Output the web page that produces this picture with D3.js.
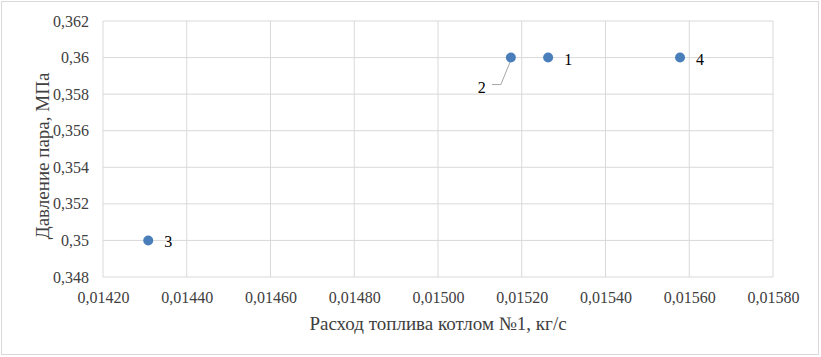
<!DOCTYPE html>
<html>
<head>
<meta charset="utf-8">
<script src="https://cdn.jsdelivr.net/npm/d3@7"></script>
<style>
  body { margin: 0; background: #fff; }
  svg text { font-family: 'Liberation Serif', 'Times New Roman', Times, 'DejaVu Serif', serif !important; }
</style>
</head>
<body>
<div id="chart"></div>
<script>
// точки: расход топлива, давление пара, номер режима
const fuelFlow = [0.015263, 0.015174, 0.014308, 0.015578];
const pressure = [0.360, 0.360, 0.350, 0.360];
const pointLabels = ["1", "2", "3", "4"];
const xTicks = [0.0142, 0.0144, 0.0146, 0.0148, 0.0150, 0.0152, 0.0154, 0.0156, 0.0158];
const yTicks = [0.348, 0.350, 0.352, 0.354, 0.356, 0.358, 0.360, 0.362];

const W = 821, H = 357;
const margin = {top: 21, right: 48, bottom: 80, left: 103},
  width = W - margin.left - margin.right,
  height = H - margin.top - margin.bottom;

const root = d3.select("#chart").append("svg")
  .attr("width", W)
  .attr("height", H);

// рамка области диаграммы
root.append("rect")
  .attr("x", 1.5).attr("y", 1.5)
  .attr("width", W - 4).attr("height", H - 4)
  .attr("fill", "#fff")
  .attr("stroke", "#d9d9d9");

const svg = root.append("g")
  .attr("transform", `translate(${margin.left}, ${margin.top})`);

let x = d3.scaleLinear().domain([0.0142, 0.0158]).range([0, width]);
let y = d3.scaleLinear().domain([0.348, 0.362]).range([height, 0]);

const fmtX = d => d3.format(".5f")(d).replace(".", ",");
const fmtY = d => String(+d.toFixed(3)).replace(".", ",");

// сетка
svg.append("g")
  .selectAll("line")
  .data(xTicks)
  .enter().append("line")
  .attr("x1", d => x(d)).attr("x2", d => x(d))
  .attr("y1", 0).attr("y2", height)
  .attr("stroke", "#d9d9d9");

svg.append("g")
  .selectAll("line")
  .data(yTicks)
  .enter().append("line")
  .attr("x1", 0).attr("x2", width)
  .attr("y1", d => y(d)).attr("y2", d => y(d))
  .attr("stroke", "#d9d9d9");

// оси
const xAxis = svg.append("g")
  .attr("transform", `translate(0, ${height})`)
  .call(d3.axisBottom(x).tickValues(xTicks).tickFormat(fmtX).tickSize(0).tickPadding(15));
xAxis.select(".domain").remove();
xAxis.attr("font-family", null).attr("font-size", 16);
xAxis.selectAll("text").attr("fill", "#404040");

const yAxis = svg.append("g")
  .call(d3.axisLeft(y).tickValues(yTicks).tickFormat(fmtY).tickSize(0).tickPadding(14));
yAxis.select(".domain").remove();
yAxis.attr("font-family", null).attr("font-size", 16);
yAxis.selectAll("text").attr("fill", "#404040");

// точки
const pts = fuelFlow.map((v, i) => ({x: v, y: pressure[i], label: pointLabels[i]}));

svg.selectAll("circle")
  .data(pts)
  .enter().append("circle")
  .attr("cx", d => x(d.x))
  .attr("cy", d => y(d.y))
  .attr("r", 5)
  .attr("fill", "#4a7ebb");

// подписи точек (у точки 2 подпись с выноской)
svg.selectAll(".pt-label")
  .data(pts)
  .enter().append("text")
  .attr("class", "pt-label")
  .attr("x", d => d.label === "2" ? x(d.x) - 33 : x(d.x) + 16)
  .attr("y", d => d.label === "2" ? y(d.y) + 35 : y(d.y) + 7)
  .attr("font-size", 16)
  .attr("fill", "#000")
  .text(d => d.label);

const p2 = pts[1];
svg.append("path")
  .attr("d", `M${x(p2.x) - 19},${y(p2.y) + 27} h9 L${x(p2.x) - 1},${y(p2.y) + 5}`)
  .attr("fill", "none")
  .attr("stroke", "#a6a6a6");

// подписи осей
root.append("text")
  .attr("x", 438)
  .attr("y", 330)
  .attr("text-anchor", "middle")
  .attr("font-size", 19)
  .attr("fill", "#404040")
  .text("Расход топлива котлом №1, кг/с");

root.append("text")
  .attr("transform", "translate(49, 156) rotate(-90)")
  .attr("text-anchor", "middle")
  .attr("font-size", 19)
  .attr("fill", "#404040")
  .text("Давление пара, МПа");
</script>
</body>
</html>
